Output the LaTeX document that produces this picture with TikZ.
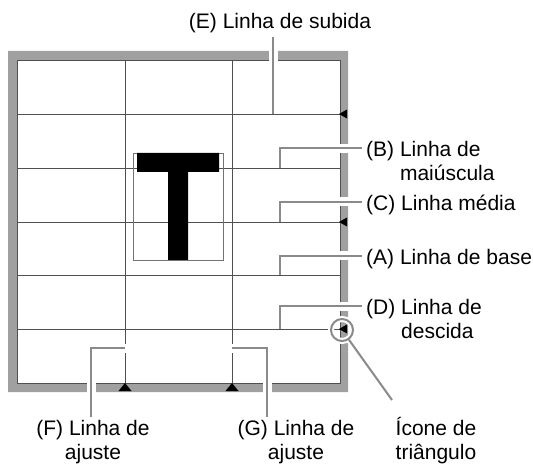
\documentclass[tikz,border=0pt]{standalone}
\usepackage{fontspec}
\setmainfont{Liberation Sans}
\usetikzlibrary{positioning}
\definecolor{framegray}{HTML}{A0A0A0}
\definecolor{leadergray}{HTML}{8A8A8A}
\definecolor{gridgray}{HTML}{505050}

\begin{document}
\begin{tikzpicture}[x=1pt, y=-1pt,
    lbl/.style={inner sep=0pt, font=\fontsize{21}{24}\selectfont},
    leader/.style={draw=leadergray, line width=2pt, preaction={draw=white, line width=9pt}},
    adjleader/.style={draw=leadergray, line width=2pt, preaction={draw=white, line width=9pt, shorten <=-5pt}},
    leaderplain/.style={draw=leadergray, line width=2pt},
    gridline/.style={draw=gridgray, line width=0.8pt},
    marker/.style={fill=black},
    ring/.style={circle, draw=leadergray, line width=2pt, minimum size=22pt, inner sep=0pt,
        preaction={draw=white, line width=6pt}}]
    \useasboundingbox (0,0) rectangle (533,465);
    \fill[framegray, even odd rule] (8,51) rectangle (348,392) (17,60) rectangle (340,383);
    \foreach \y in {114,168,222,275,329} \draw[gridline] (17,\y) -- (340,\y);
    \foreach \x in {125,232} \draw[gridline] (\x,60) -- (\x,383);
    \draw[gridline] (17,60) rectangle (340,383);
    \draw[draw=gridgray!80, line width=0.8pt] (133,153) rectangle (223,260);
    \fill[black] (137,153) rectangle (219,172) (168,172) rectangle (188,260);
    \foreach \y in {114,222,329} \fill[marker] (339,\y) -- (347,\y-4.5) -- (347,\y+4.5) -- cycle;
    \foreach \x in {125,232} \fill[marker] (\x,383) -- (\x-6.5,391) -- (\x+6.5,391) -- cycle;

    \coordinate (ascLine) at (273,114);
    \coordinate (ascEnd) at (273,37);
    \coordinate (capLine) at (280,168);
    \coordinate (capEnd) at (362,148.5);
    \coordinate (midLine) at (280,222);
    \coordinate (midEnd) at (362,202);
    \coordinate (baseLine) at (280,275);
    \coordinate (baseEnd) at (362,256);
    \coordinate (descLine) at (280,329);
    \coordinate (descEnd) at (362,306);
    \coordinate (adjustF) at (125,348);
    \coordinate (adjustFEnd) at (91,417);
    \coordinate (adjustG) at (232,348);
    \coordinate (adjustGEnd) at (267,417);
    \coordinate (iconEnd) at (392,400);

    \node[lbl, anchor=base] (lblE) at (280,29) {(E) Linha de subida};
    \node[lbl, anchor=base west, xshift=4pt, yshift=-8.5pt] (lblB) at (capEnd)
        {\begin{tabular}[t]{@{}l@{ }l@{}}(B) & Linha de\\ & maiúscula\end{tabular}};
    \node[lbl, anchor=base west, xshift=4pt, yshift=-8.5pt] (lblC) at (midEnd) {(C) Linha média};
    \node[lbl, anchor=base west, xshift=4pt, yshift=-8.5pt] (lblA) at (baseEnd) {(A) Linha de base};
    \node[lbl, anchor=base west, xshift=4pt, yshift=-8.5pt] (lblD) at (descEnd)
        {\begin{tabular}[t]{@{}l@{ }l@{}}(D) & Linha de\\ & descida\end{tabular}};
    \node[lbl, anchor=base] (lblF) at (93,435)
        {\begin{tabular}[t]{@{}c@{}}(F) Linha de\\ajuste\end{tabular}};
    \node[lbl, anchor=base] (lblG) at (296,435)
        {\begin{tabular}[t]{@{}c@{}}(G) Linha de\\ajuste\end{tabular}};
    \node[lbl, anchor=base] (lblIcon) at (436,435)
        {\begin{tabular}[t]{@{}c@{}}Ícone de\\triângulo\end{tabular}};

    \draw[leader] (ascLine) -- (ascEnd);
    \draw[leader] (capLine) |- (capEnd);
    \draw[leader] (midLine) |- (midEnd);
    \draw[leader] (baseLine) |- (baseEnd);
    \draw[leader] (descLine) |- (descEnd);
    \draw[adjleader] (adjustF) -| (adjustFEnd);
    \draw[adjleader] (adjustG) -| (adjustGEnd);
    \node[ring] (iconRing) at (342,330) {};
    \draw[leaderplain] (iconRing) -- (iconEnd);
\end{tikzpicture}
\end{document}
